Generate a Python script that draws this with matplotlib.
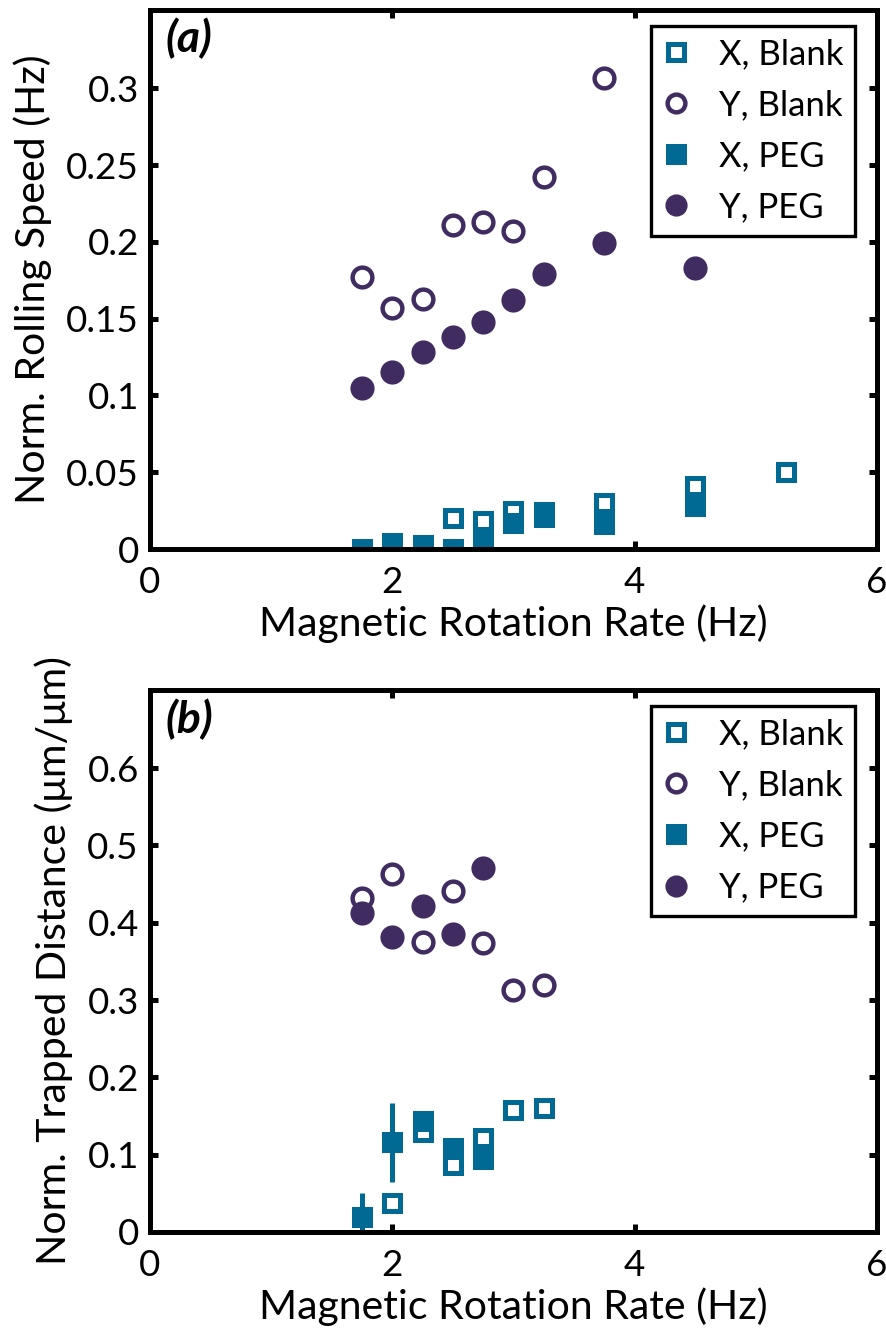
import matplotlib
matplotlib.use("Agg")
import matplotlib.pyplot as plt
import numpy as np

plt.rcParams['font.family'] = ['Lato', 'DejaVu Sans']

# ---------------- data: panel (a) ----------------
a_xblank_x = [2.5, 2.75, 3.0, 3.25, 3.75, 4.5, 5.25]
a_xblank_y = [0.020, 0.018, 0.025, 0.024, 0.030, 0.041, 0.050]
a_yblank_x = [1.75, 2.0, 2.25, 2.5, 2.75, 3.0, 3.25, 3.75]
a_yblank_y = [0.177, 0.157, 0.163, 0.211, 0.213, 0.207, 0.242, 0.307]
a_xpeg_x = [1.75, 2.0, 2.25, 2.5, 2.75, 3.0, 3.25, 3.75, 4.5]
a_xpeg_y = [0.000, 0.004, 0.0025, 0.000, 0.007, 0.017, 0.021, 0.0165, 0.028]
a_ypeg_x = [1.75, 2.0, 2.25, 2.5, 2.75, 3.0, 3.25, 3.75, 4.5]
a_ypeg_y = [0.105, 0.115, 0.128, 0.138, 0.148, 0.162, 0.179, 0.199, 0.183]

# ---------------- data: panel (b) ----------------
b_xblank_x = [2.0, 2.25, 2.5, 2.75, 3.0, 3.25]
b_xblank_y = [0.038, 0.129, 0.086, 0.121, 0.158, 0.161]
b_yblank_x = [1.75, 2.0, 2.25, 2.5, 2.75, 3.0, 3.25]
b_yblank_y = [0.432, 0.463, 0.375, 0.441, 0.374, 0.313, 0.320]
b_xpeg_x = [1.75, 2.0, 2.25, 2.5, 2.75]
b_xpeg_y = [0.020, 0.116, 0.144, 0.109, 0.094]
b_xpeg_err = [0.030, 0.051, 0.0, 0.0, 0.0]
b_ypeg_x = [1.75, 2.0, 2.25, 2.5, 2.75]
b_ypeg_y = [0.413, 0.382, 0.421, 0.386, 0.471]

labels = ["X, Blank", "Y, Blank", "X, PEG", "Y, PEG"]
a_yticks = [0, 0.05, 0.1, 0.15, 0.2, 0.25, 0.3]
a_yticklabels = ["0", "0.05", "0.1", "0.15", "0.2", "0.25", "0.3"]
b_yticks = [0, 0.1, 0.2, 0.3, 0.4, 0.5, 0.6]
b_yticklabels = ["0", "0.1", "0.2", "0.3", "0.4", "0.5", "0.6"]
xticks = [0, 2, 4, 6]
xticklabels = ["0", "2", "4", "6"]

TEAL = "#006994"
PURPLE = "#412C61"

fig = plt.figure(figsize=(8.87, 13.29), dpi=100)
ax_a = fig.add_axes([0.169, 0.5869, 0.8197, 0.4056])
ax_b = fig.add_axes([0.169, 0.0730, 0.8197, 0.4078])

TICK_FS = 26.5
LABEL_FS = 29.5
LEG_FS = 25
TAG_FS = 32
sq_ms, sq_mew = 12.2, 3.6
ci_ms, ci_mew = 14.2, 3.2


def draw(ax, xb, yb, cb, cyb, xp, yp, xerr, cp, cyp, ylim, yt, ytl, ylabel, tag):
    h1, = ax.plot(xb, yb, ls='none', marker='s', ms=sq_ms, mew=sq_mew,
                  mec=TEAL, mfc='white', zorder=3)
    h2, = ax.plot(cb, cyb, ls='none', marker='o', ms=ci_ms, mew=ci_mew,
                  mec=PURPLE, mfc='white', zorder=3)
    if xerr is not None:
        ax.errorbar(xp, yp, yerr=xerr, fmt='none', ecolor=TEAL, elinewidth=3.6,
                    capsize=0, zorder=4)
    h3, = ax.plot(xp, yp, ls='none', marker='s', ms=sq_ms, mew=sq_mew,
                  mec=TEAL, mfc=TEAL, zorder=4)
    h4, = ax.plot(cp, cyp, ls='none', marker='o', ms=ci_ms, mew=ci_mew,
                  mec=PURPLE, mfc=PURPLE, zorder=4)
    ax.set_xlim(0, 6)
    ax.set_ylim(*ylim)
    ax.set_xticks(xticks)
    ax.set_xticklabels(xticklabels)
    ax.set_yticks(yt)
    ax.set_yticklabels(ytl)
    ax.tick_params(direction='in', length=6, width=3.6, labelsize=TICK_FS,
                   top=True, right=True)
    ax.tick_params(axis='x', pad=12)
    ax.tick_params(axis='y', pad=8)
    for s in ax.spines.values():
        s.set_linewidth(3.6)
        s.set_zorder(5)
    ax.set_xlabel("Magnetic Rotation Rate (Hz)", fontsize=LABEL_FS, labelpad=4)
    ax.set_ylabel(ylabel, fontsize=LABEL_FS, labelpad=10)
    ax.text(0.022, 0.985, tag, transform=ax.transAxes, fontsize=TAG_FS,
            fontweight='bold', fontstyle='italic', va='top', ha='left')
    leg = ax.legend([h1, h2, h3, h4], labels, loc='upper right',
                    fontsize=LEG_FS, frameon=True, fancybox=False,
                    edgecolor='black', framealpha=1.0,
                    handlelength=0.75, handletextpad=0.85,
                    borderpad=0.35, labelspacing=0.55, markerscale=0.9,
                    bbox_to_anchor=(0.97, 0.97), borderaxespad=0)
    leg.get_frame().set_linewidth(2.4)
    leg.set_zorder(6)


draw(ax_a, a_xblank_x, a_xblank_y, a_yblank_x, a_yblank_y,
     a_xpeg_x, a_xpeg_y, None, a_ypeg_x, a_ypeg_y,
     (0, 0.351), a_yticks, a_yticklabels, "Norm. Rolling Speed (Hz)", "(a)")
draw(ax_b, b_xblank_x, b_xblank_y, b_yblank_x, b_yblank_y,
     b_xpeg_x, b_xpeg_y, b_xpeg_err, b_ypeg_x, b_ypeg_y,
     (0, 0.701), b_yticks, b_yticklabels, "Norm. Trapped Distance (\u03bcm/\u03bcm)", "(b)")

fig.savefig("out.png", dpi=100)
